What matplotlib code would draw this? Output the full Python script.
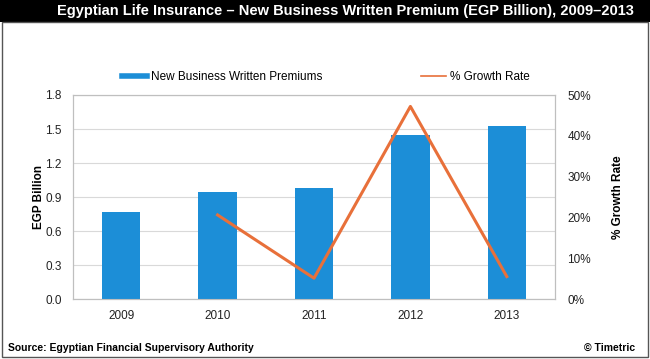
import matplotlib
matplotlib.use("Agg")
import matplotlib.pyplot as plt
from matplotlib.ticker import FuncFormatter, MultipleLocator
from matplotlib.patches import Rectangle
from matplotlib.lines import Line2D

years = ["2009", "2010", "2011", "2012", "2013"]
premiums = [0.77, 0.94, 0.98, 1.45, 1.53]
growth_years = ["2010", "2011", "2012", "2013"]
growth = [20.6, 5.1, 47.2, 5.5]

plt.rcParams['font.family'] = ['Liberation Sans', 'DejaVu Sans']
BAR = "#1C8ED7"
LINE = "#E8703A"

fig = plt.figure(figsize=(6.5, 3.59), dpi=100)
W, H = 650, 359
ax = fig.add_axes([73/W, 1-299/H, (555-73)/W, (299-95)/H])
x = list(range(len(years)))
ax.bar(x, premiums, width=0.4, color=BAR, zorder=3)
ax.set_xlim(-0.5, 4.5)
ax.set_ylim(0, 1.8)
ax.yaxis.set_major_locator(MultipleLocator(0.3))
ax.yaxis.set_major_formatter(FuncFormatter(lambda v, p: f"{v:.1f}"))
ax.set_xticks(x)
ax.set_xticklabels(years)
ax.grid(axis='y', color='#D9D9D9', lw=0.8, zorder=0)
for s in ax.spines.values():
    s.set_color('#BFBFBF')
ax.tick_params(length=0, labelsize=8.5, colors='#222222', pad=8)
ax.set_ylabel("EGP Billion", fontsize=8.5, fontweight='bold', labelpad=0)

ax2 = ax.twinx()
gx = [years.index(y) for y in growth_years]
ax2.plot(gx, growth, color=LINE, lw=2.2, zorder=4)
ax2.set_ylim(0, 50)
ax2.yaxis.set_major_locator(MultipleLocator(10))
ax2.yaxis.set_major_formatter(FuncFormatter(lambda v, p: f"{v:.0f}%"))
ax2.tick_params(length=0, labelsize=8.5, colors='#222222', pad=9)
for s in ax2.spines.values():
    s.set_color('#BFBFBF')
ax2.set_ylabel("% Growth Rate", fontsize=8.5, fontweight='bold', labelpad=15)

# legend
fig.legend([Line2D([], [], color=BAR, lw=4), Line2D([], [], color=LINE, lw=1.2)],
           ["New Business Written Premiums", "% Growth Rate"],
           loc='center', bbox_to_anchor=(326/W, 1-77/H), ncol=2, frameon=False,
           fontsize=8.5, handlelength=2.1, columnspacing=8.3, handletextpad=0.4)

# title bar and frame
fig.patches.append(Rectangle((0, 1-22/H), 1, 22/H, transform=fig.transFigure,
                             facecolor='black', edgecolor='none'))
fig.patches.append(Rectangle((2/W, 2/H), 1-4/W, 1-24/H, transform=fig.transFigure,
                             facecolor='none', edgecolor='#555555', lw=1))
fig.text(345/W, 1-11/H, "Egyptian Life Insurance – New Business Written Premium (EGP Billion), 2009–2013",
         color='white', fontsize=10.5, fontweight='bold', ha='center', va='center',
         family=['Liberation Sans Narrow', 'Liberation Sans', 'DejaVu Sans'])
fig.text(8/W, 1-348/H, "Source: Egyptian Financial Supervisory Authority",
         fontsize=7.5, fontweight='bold', ha='left', va='center',
         family=['Liberation Sans Narrow', 'Liberation Sans'])
fig.text(635/W, 1-348/H, "© Timetric", fontsize=7.5, fontweight='bold', ha='right', va='center',
         family=['Liberation Sans Narrow', 'Liberation Sans'])

fig.savefig("out.png", dpi=100)
